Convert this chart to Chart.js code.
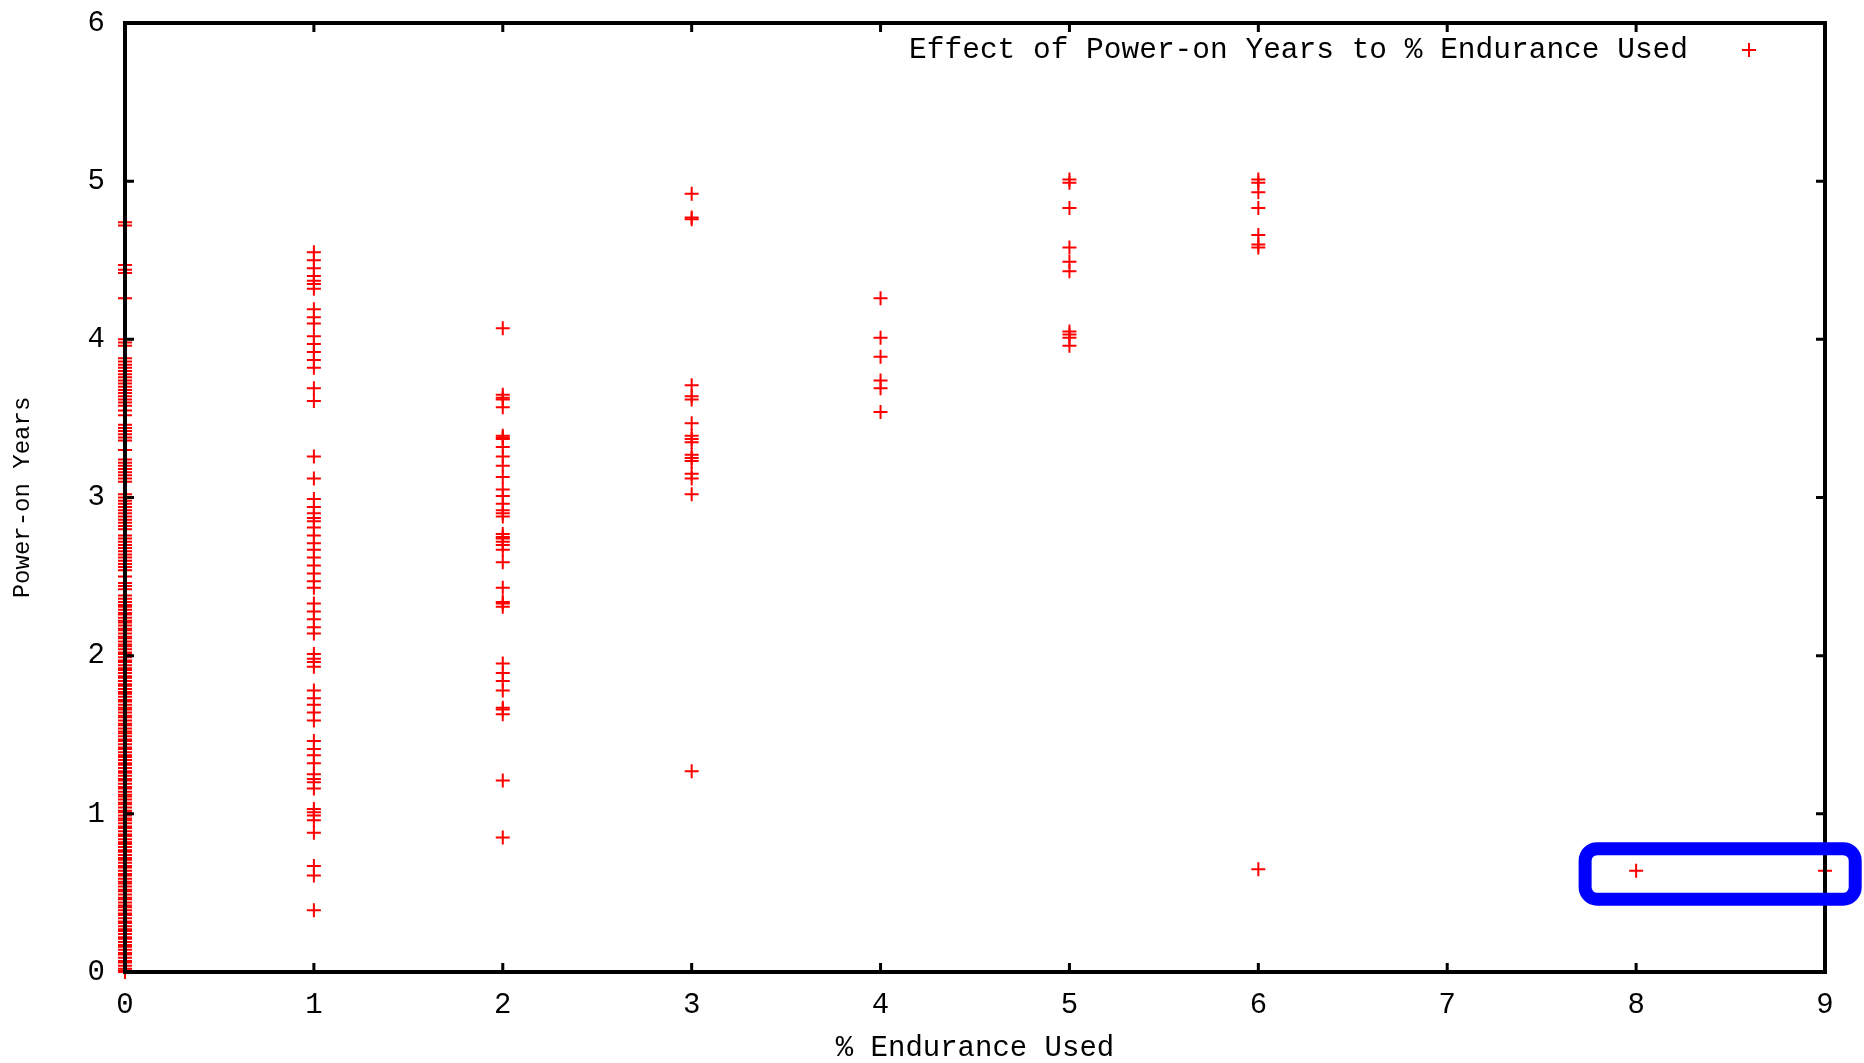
<!DOCTYPE html>
<html>
<head>
<meta charset="utf-8">
<script src="https://cdn.jsdelivr.net/npm/chart.js@4.4.1/dist/chart.umd.min.js"></script>
<style>
html,body{margin:0;padding:0;background:#fff;}
</style>
</head>
<body>
<canvas id="myChart" width="1864" height="1063"></canvas>
<script>
// % endurance used (x) and the power-on years seen at each one (y)
var endurance = [0, 1, 2, 3, 4, 5, 6, 8, 9];

// column at 0% is a near solid band below ~2.35 years
var yrs0 = [4.74, 4.72, 4.47, 4.44, 4.42, 4.26, 4.0, 3.98, 3.96,
  3.88, 3.86, 3.84, 3.82, 3.8, 3.78, 3.76, 3.74, 3.72, 3.7, 3.68, 3.66, 3.64, 3.62, 3.6, 3.58,
  3.55, 3.52, 3.46, 3.44, 3.42, 3.4, 3.38, 3.36, 3.3, 3.24, 3.22, 3.2, 3.18, 3.16, 3.14, 3.12, 3.1,
  3.02, 3.0, 2.98, 2.96, 2.94, 2.92, 2.9, 2.88, 2.86, 2.84, 2.82, 2.8,
  2.76, 2.74, 2.72, 2.7, 2.68, 2.66, 2.64, 2.62, 2.6, 2.58, 2.56, 2.54,
  2.5, 2.46, 2.44, 2.42, 2.38, 2.36,
  2.34, 2.32, 2.31, 2.29, 2.27, 2.26, 2.24, 2.22, 2.21, 2.19, 2.17, 2.16, 2.14, 2.12, 2.11, 2.09,
  2.07, 2.06, 2.04, 2.02, 2.01, 1.99, 1.97, 1.96, 1.94, 1.92, 1.91, 1.89, 1.87, 1.86, 1.84, 1.82,
  1.81, 1.79, 1.77, 1.76, 1.74, 1.72, 1.71, 1.69, 1.67, 1.66, 1.64, 1.62, 1.61, 1.59, 1.57, 1.56,
  1.54, 1.52, 1.51, 1.49, 1.47, 1.46, 1.44, 1.42, 1.41, 1.39, 1.37, 1.36, 1.34, 1.32, 1.31, 1.29,
  1.27, 1.26, 1.24, 1.22, 1.21, 1.19, 1.17, 1.16, 1.14, 1.12, 1.11, 1.09, 1.07, 1.06, 1.04, 1.02,
  1.01, 0.99, 0.97, 0.96, 0.94, 0.92, 0.91, 0.89, 0.87, 0.86, 0.84, 0.82, 0.81, 0.79, 0.77, 0.76,
  0.74, 0.72, 0.71, 0.69, 0.67, 0.66, 0.64, 0.62, 0.61, 0.59, 0.57, 0.56, 0.54, 0.52, 0.51, 0.49,
  0.47, 0.46, 0.44, 0.42, 0.41, 0.39, 0.37, 0.36, 0.34, 0.32, 0.31, 0.29, 0.27, 0.26, 0.24, 0.22,
  0.21, 0.19, 0.17, 0.16, 0.14, 0.12, 0.11, 0.09, 0.07, 0.06, 0.04, 0.02, 0.01, 0.0];
var yrs1 = [4.55, 4.5, 4.45, 4.4, 4.37, 4.35, 4.32, 4.19, 4.14, 4.1, 4.02, 3.97, 3.92, 3.87, 3.82,
  3.69, 3.61, 3.26, 3.12, 2.99, 2.94, 2.9, 2.87, 2.85, 2.81, 2.76, 2.71, 2.67, 2.62, 2.57, 2.52,
  2.47, 2.43, 2.33, 2.28, 2.23, 2.18, 2.14, 2.01, 1.98, 1.96, 1.93, 1.78, 1.73, 1.69, 1.64, 1.59,
  1.46, 1.41, 1.37, 1.32, 1.25, 1.22, 1.2, 1.16, 1.03, 1.01, 0.99, 0.96, 0.88, 0.67, 0.61, 0.39];
var yrs2 = [4.07, 3.65, 3.63, 3.62, 3.57, 3.39, 3.38, 3.37, 3.32, 3.26, 3.2, 3.13, 3.05, 3.01, 2.96,
  2.92, 2.9, 2.88, 2.77, 2.75, 2.74, 2.72, 2.7, 2.67, 2.59, 2.43, 2.34, 2.33, 2.31, 1.95, 1.89,
  1.84, 1.78, 1.67, 1.66, 1.63, 1.21, 0.85];
var yrs3 = [4.92, 4.77, 4.76, 3.71, 3.64, 3.62, 3.47, 3.39, 3.37, 3.35, 3.27, 3.25, 3.23, 3.15, 3.12, 3.02, 1.27];
var yrs4 = [4.26, 4.01, 3.89, 3.74, 3.69, 3.54];
var yrs5 = [5.01, 4.99, 4.83, 4.58, 4.49, 4.43, 4.05, 4.03, 4.01, 3.96];
var yrs6 = [5.01, 4.99, 4.93, 4.83, 4.66, 4.6, 4.58, 0.65];
var yrs8 = [0.64];
var yrs9 = [0.64];

var seriesName = "Effect of Power-on Years to % Endurance Used";
var xTitle = "% Endurance Used";
var yTitle = "Power-on Years";

// the blue highlight box, in data units
var hiBox = {x0: 7.73, x1: 9.16, y0: 0.46, y1: 0.78};

var cols = [yrs0, yrs1, yrs2, yrs3, yrs4, yrs5, yrs6, yrs8, yrs9];
var pts = [];
for (var i = 0; i < endurance.length; i++) {
  for (var j = 0; j < cols[i].length; j++) {
    pts.push({x: endurance[i], y: cols[i][j]});
  }
}

var monoFont = '"Liberation Mono", "DejaVu Sans Mono", monospace';

// gnuplot style frame with inward ticks on all 4 sides
var framePlugin = {
  id: 'frame',
  afterDatasetsDraw: function(chart) {
    var ctx = chart.ctx, a = chart.chartArea;
    var xs = chart.scales.x, ys = chart.scales.y;
    ctx.save();
    ctx.strokeStyle = '#000';
    ctx.lineWidth = 3;
    xs.ticks.forEach(function(t) {
      var px = xs.getPixelForValue(t.value);
      ctx.beginPath();
      ctx.moveTo(px, a.bottom); ctx.lineTo(px, a.bottom - 9);
      ctx.moveTo(px, a.top); ctx.lineTo(px, a.top + 9);
      ctx.stroke();
    });
    ys.ticks.forEach(function(t) {
      var py = ys.getPixelForValue(t.value);
      ctx.beginPath();
      ctx.moveTo(a.left, py); ctx.lineTo(a.left + 9, py);
      ctx.moveTo(a.right, py); ctx.lineTo(a.right - 9, py);
      ctx.stroke();
    });
    ctx.lineWidth = 4;
    ctx.strokeRect(a.left, a.top, a.right - a.left, a.bottom - a.top);
    ctx.restore();
  }
};

// key in the top right corner, sample mark after the text
var keyPlugin = {
  id: 'key',
  afterDraw: function(chart) {
    var ctx = chart.ctx, a = chart.chartArea;
    var ds = chart.data.datasets[0];
    var cy = a.top + 27;
    ctx.save();
    ctx.font = '29.5px ' + monoFont;
    ctx.fillStyle = '#000';
    ctx.textAlign = 'right';
    ctx.textBaseline = 'middle';
    ctx.fillText(ds.label, a.right - 137, cy);
    var cx = a.right - 76;
    ctx.strokeStyle = ds.borderColor;
    ctx.lineWidth = 2;
    ctx.beginPath();
    ctx.moveTo(cx - 7, cy); ctx.lineTo(cx + 7, cy);
    ctx.moveTo(cx, cy - 7); ctx.lineTo(cx, cy + 7);
    ctx.stroke();
    ctx.restore();
  }
};

var boxPlugin = {
  id: 'hibox',
  afterDraw: function(chart) {
    var ctx = chart.ctx;
    var xs = chart.scales.x, ys = chart.scales.y;
    var l = xs.getPixelForValue(hiBox.x0), r = xs.getPixelForValue(hiBox.x1);
    var t = ys.getPixelForValue(hiBox.y1), b = ys.getPixelForValue(hiBox.y0);
    var rad = 12;
    ctx.save();
    ctx.strokeStyle = '#0000ff';
    ctx.lineWidth = 13;
    ctx.beginPath();
    ctx.moveTo(l + rad, t);
    ctx.arcTo(r, t, r, b, rad);
    ctx.arcTo(r, b, l, b, rad);
    ctx.arcTo(l, b, l, t, rad);
    ctx.arcTo(l, t, r, t, rad);
    ctx.closePath();
    ctx.stroke();
    ctx.restore();
  }
};

const myChart = new Chart("myChart", {
  type: "scatter",
  data: {
    datasets: [{
      label: seriesName,
      data: pts,
      pointStyle: 'cross',
      pointRadius: 7,
      pointHoverRadius: 7,
      pointBorderWidth: 2,
      borderColor: '#ff0000',
      backgroundColor: '#ff0000',
      showLine: false,
      clip: false
    }]
  },
  options: {
    responsive: false,
    animation: false,
    devicePixelRatio: 1,
    layout: {padding: {top: 23, right: 39, left: 0, bottom: 0}},
    plugins: {legend: {display: false}, tooltip: {enabled: false}},
    scales: {
      x: {
        type: 'linear', min: 0, max: 9,
        afterFit: function(s) { s.height = 91; s.paddingLeft = 0; s.paddingRight = 0; },
        grid: {display: false, drawTicks: false},
        border: {display: false},
        ticks: {stepSize: 1, padding: 16, color: '#000', font: {family: monoFont, size: 29}},
        title: {display: true, text: xTitle, color: '#000', padding: 0,
          font: {family: monoFont, size: 29, lineHeight: 1}}
      },
      y: {
        type: 'linear', min: 0, max: 6,
        afterFit: function(s) { s.width = 125; s.paddingTop = 0; s.paddingBottom = 0; },
        grid: {display: false, drawTicks: false},
        border: {display: false},
        ticks: {stepSize: 1, padding: 20, color: '#000', font: {family: monoFont, size: 29}},
        title: {display: true, text: yTitle, color: '#000', padding: {top: 11, bottom: 0},
          font: {family: monoFont, size: 24, lineHeight: 1}}
      }
    }
  },
  plugins: [framePlugin, keyPlugin, boxPlugin]
});
</script>
</body>
</html>
